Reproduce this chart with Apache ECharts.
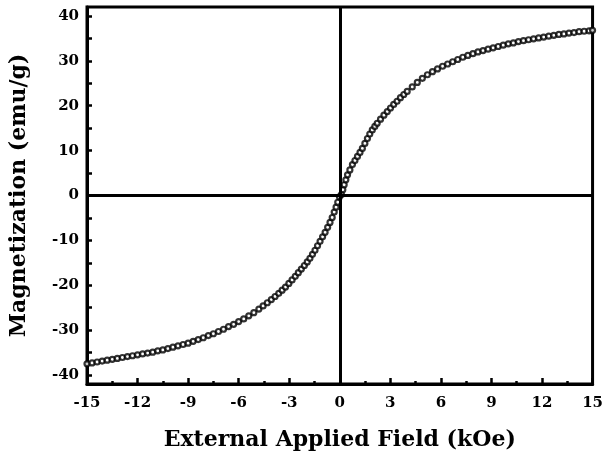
<!DOCTYPE html>
<html>
<head>
<meta charset="utf-8">
<script src="https://cdn.jsdelivr.net/npm/echarts@6/dist/echarts.min.js"></script>
<style>
  html, body { margin: 0; padding: 0; background: #fff; }
  #main { width: 606px; height: 464px; }
</style>
</head>
<body>
<div id="main"></div>
<script>
// field (kOe) and magnetization (emu/g)
var field = [
  -15.0, -14.7, -14.4, -14.1, -13.8, -13.5, -13.2, -12.9, -12.6, -12.3,
  -12.0, -11.7, -11.4, -11.1, -10.8, -10.5, -10.2, -9.9, -9.6, -9.3,
  -9.0, -8.7, -8.4, -8.1, -7.8, -7.5, -7.2, -6.9, -6.6, -6.3,
  -6.0, -5.7, -5.4, -5.1, -4.8, -4.55, -4.3, -4.06, -3.84, -3.62,
  -3.42, -3.22, -3.02, -2.83, -2.64, -2.46, -2.28, -2.1, -1.93, -1.77,
  -1.62, -1.47, -1.32, -1.17, -1.02, -0.87, -0.72, -0.58, -0.45, -0.33,
  -0.22, -0.12, -0.02,
  0.1, 0.18, 0.26, 0.36, 0.46, 0.6, 0.75, 0.9, 1.05, 1.2,
  1.34, 1.49, 1.64, 1.78, 1.93, 2.08, 2.22, 2.42, 2.62, 2.82,
  3.01, 3.2, 3.4, 3.6, 3.8, 4.0, 4.3, 4.6, 4.9, 5.2,
  5.5, 5.8, 6.1, 6.4, 6.7, 7.0, 7.3, 7.6, 7.9, 8.2,
  8.5, 8.8, 9.1, 9.4, 9.7, 10.0, 10.3, 10.6, 10.9, 11.2,
  11.5, 11.8, 12.1, 12.4, 12.7, 13.0, 13.3, 13.6, 13.9, 14.2,
  14.5, 14.8, 15.0
];
var magnetization = [
  -37.5, -37.3, -37.1, -36.9, -36.7, -36.5, -36.3, -36.1, -35.9, -35.7,
  -35.5, -35.3, -35.1, -34.9, -34.6, -34.4, -34.1, -33.8, -33.5, -33.2,
  -32.9, -32.5, -32.1, -31.7, -31.2, -30.8, -30.3, -29.8, -29.2, -28.7,
  -28.1, -27.5, -26.8, -26.1, -25.3, -24.6, -23.9, -23.2, -22.5, -21.8,
  -21.1, -20.4, -19.6, -18.8, -18.0, -17.2, -16.4, -15.6, -14.8, -14.0,
  -13.1, -12.2, -11.2, -10.2, -9.2, -8.2, -7.1, -6.0, -4.9, -3.7,
  -2.6, -1.5, -0.3,
  0.2, 1.3, 2.4, 3.5, 4.6, 5.7, 6.9, 7.8, 8.7, 9.6,
  10.5, 11.6, 12.7, 13.7, 14.6, 15.4, 16.1, 17.0, 17.9, 18.7,
  19.5, 20.3, 21.0, 21.8, 22.5, 23.2, 24.2, 25.2, 26.1, 26.9,
  27.6, 28.2, 28.8, 29.3, 29.8, 30.3, 30.8, 31.2, 31.6, 32.0,
  32.3, 32.6, 32.9, 33.2, 33.5, 33.8, 34.0, 34.3, 34.5, 34.7,
  34.9, 35.1, 35.3, 35.5, 35.7, 35.9, 36.0, 36.2, 36.3, 36.5,
  36.6, 36.7, 36.8
];
var yLabels = [-40, -30, -20, -10, 0, 10, 20, 30, 40];
var yTicks = [-40, -35, -30, -25, -20, -15, -10, -5, 0, 5, 10, 15, 20, 25, 30, 35, 40];

var points = [];
for (var i = 0; i < field.length; i++) {
  points.push([field[i], magnetization[i]]);
}

var font = '"DejaVu Serif", "Liberation Serif", serif';
var myChart = echarts.init(document.getElementById('main'));
var option = {
  animation: false,
  grid: {
    left: 87,
    right: 9,
    top: 7,
    bottom: 80,
    show: true,
    borderColor: '#000',
    borderWidth: 3
  },
  xAxis: {
    type: 'value',
    min: -15,
    max: 15,
    interval: 3,
    name: 'External Applied Field (kOe)',
    nameLocation: 'middle',
    nameGap: 45,
    nameTextStyle: { fontFamily: font, fontWeight: 'bold', fontSize: 22, color: '#000' },
    axisLine: { onZero: false, lineStyle: { color: '#000', width: 3 } },
    axisTick: { inside: true, length: 6, lineStyle: { color: '#000', width: 2.5 } },
    minorTick: { show: true, splitNumber: 2, length: 3, lineStyle: { color: '#000', width: 2.5 } },
    axisLabel: { fontFamily: font, fontWeight: 'bold', fontSize: 15, color: '#000', margin: 12 },
    splitLine: { show: false }
  },
  yAxis: {
    type: 'value',
    min: -42,
    max: 42,
    name: 'Magnetization (emu/g)',
    nameLocation: 'middle',
    nameGap: 57,
    nameTextStyle: { fontFamily: font, fontWeight: 'bold', fontSize: 22, color: '#000' },
    axisLine: { onZero: false, lineStyle: { color: '#000', width: 3 } },
    axisTick: { inside: true, length: 5, customValues: yTicks, lineStyle: { color: '#000', width: 2.5 } },
    axisLabel: { fontFamily: font, fontWeight: 'bold', fontSize: 15, color: '#000', margin: 8, customValues: yLabels },
    splitLine: { show: false }
  },
  series: [
    {
      type: 'scatter',
      data: points,
      symbol: 'circle',
      symbolSize: 5,
      itemStyle: { color: '#fff', borderColor: '#000', borderWidth: 2.2 },
      markLine: {
        silent: true,
        symbol: 'none',
        label: { show: false },
        lineStyle: { color: '#000', width: 3, type: 'solid' },
        data: [{ xAxis: 0 }, { yAxis: 0 }]
      },
      z: 3
    }
  ]
};
myChart.setOption(option);
</script>
</body>
</html>
